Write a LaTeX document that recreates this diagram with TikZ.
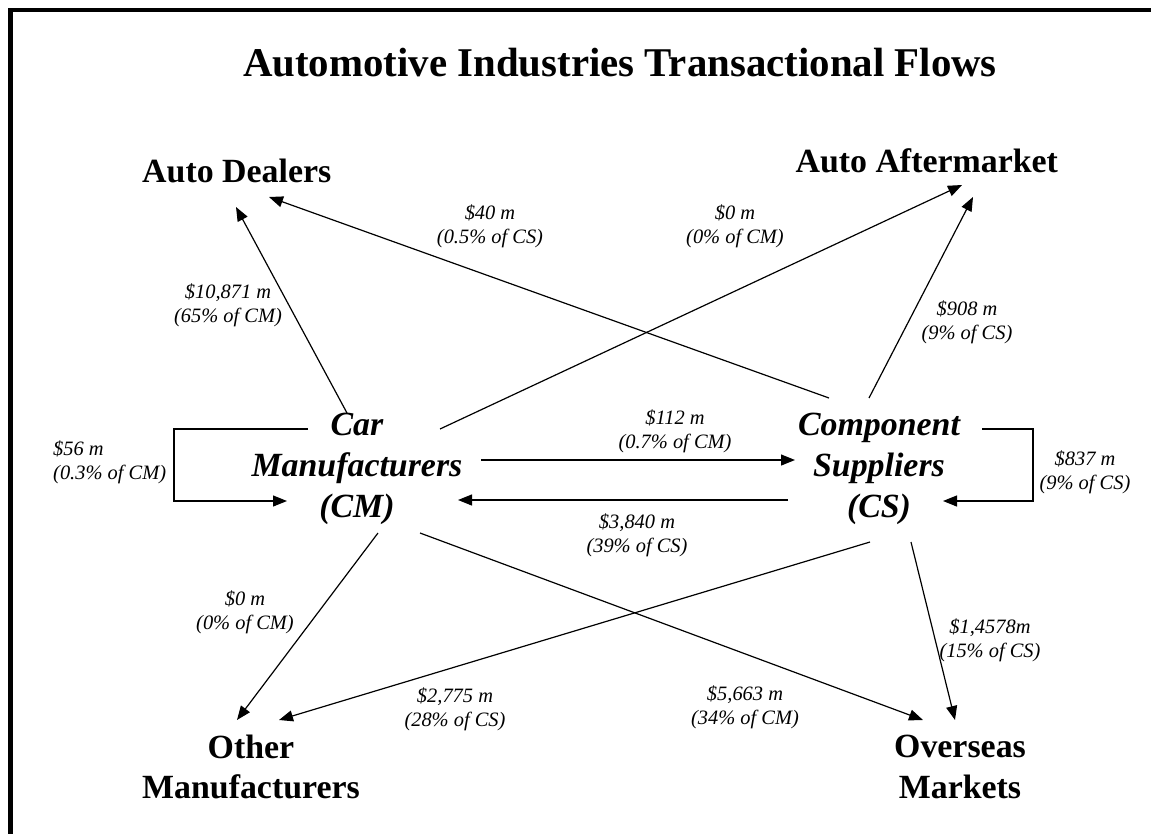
\documentclass[tikz,border=0pt]{standalone}
\usepackage{fontspec}
\setmainfont{Liberation Serif}
\usetikzlibrary{arrows.meta}
\tikzstyle{heading} = [font=\fontsize{41}{48}\selectfont\bfseries,inner sep=0pt]
\tikzstyle{market} = [font=\fontsize{34}{41}\selectfont\bfseries,align=center,inner sep=0pt]
\tikzstyle{producer} = [font=\fontsize{34}{41}\selectfont\bfseries\itshape,align=center,inner sep=0pt]
\tikzstyle{amount} = [font=\fontsize{20.5}{24.5}\selectfont\itshape,align=center,inner sep=0pt]
\tikzstyle{flow} = [-{Triangle[length=14bp,width=11bp]},line width=1.2bp,draw=black]

\begin{document}
\begin{tikzpicture}[x=1bp,y=-1bp]
\useasboundingbox (0,0) rectangle (1151,834);
\draw[line width=4.5bp] (10.5,840) -- (10.5,10) -- (1160,10);

\node[heading,anchor=base] (title) at (620,76) {
	Automotive Industries Transactional Flows
};

\node[market,anchor=base] (AD) at (241,182) {
	Auto Dealers
};
\node[market,anchor=base] (AA) at (931,172) {
	Auto Aftermarket
};
\node[market] (OM) at (251,767) {
	Other\\Manufacturers
};
\node[market] (OS) at (960,767) {
	Overseas\\Markets
};

\node[producer] (CM) at (357,469) {
	Car\\Manufacturers\\(CM)
};
\node[producer] (CS) at (879,469) {
	Component\\Suppliers\\(CS)
};

\draw[flow] ([shift={(-10,-56)}]CM.center) -- ([shift={(-5,25)}]AD.base);
\draw[flow] ([shift={(-50,-71)}]CS.center) -- ([shift={(28,15)}]AD.base);
\draw[flow] ([shift={(83,-40)}]CM.center) -- ([shift={(31,13)}]AA.base);
\draw[flow] ([shift={(-10,-71)}]CS.center) -- ([shift={(42,25)}]AA.base);

\draw[flow] ([shift={(124,-9)}]CM.center) -- ([shift={(-84,-9)}]CS.center);
\draw[flow] ([shift={(-91,31)}]CS.center) -- ([shift={(101,31)}]CM.center);
\draw[flow] ([shift={(-49,-40)}]CM.center) -| (174,501) -- ([shift={(-70,32)}]CM.center);
\draw[flow] ([shift={(103,-40)}]CS.center) -| (1033,501) -- ([shift={(64,32)}]CS.center);

\draw[flow] ([shift={(21,64)}]CM.center) -- ([shift={(-14,-47)}]OM.center);
\draw[flow] ([shift={(-9,73)}]CS.center) -- ([shift={(28,-47)}]OM.center);
\draw[flow] ([shift={(63,64)}]CM.center) -- ([shift={(-37,-47)}]OS.center);
\draw[flow] ([shift={(32,73)}]CS.center) -- ([shift={(-5,-47)}]OS.center);

\node[amount] (cm2ad) at (228,305) {
	\$10,871 m\\(65\% of CM)
};
\node[amount] (cs2ad) at (490,226) {
	\$40 m\\(0.5\% of CS)
};
\node[amount] (cm2aa) at (735,226) {
	\$0 m\\(0\% of CM)
};
\node[amount] (cs2aa) at (967,322) {
	\$908 m\\(9\% of CS)
};
\node[amount] (cm2cs) at (675,431) {
	\$112 m\\(0.7\% of CM)
};
\node[amount] (cs2cm) at (637,535) {
	\$3,840 m\\(39\% of CS)
};
\node[amount,align=left,anchor=west] (cm2cm) at (53,462) {
	\$56 m\\(0.3\% of CM)
};
\node[amount] (cs2cs) at (1085,472) {
	\$837 m\\(9\% of CS)
};
\node[amount] (cm2om) at (245,612) {
	\$0 m\\(0\% of CM)
};
\node[amount] (cs2om) at (455,709) {
	\$2,775 m\\(28\% of CS)
};
\node[amount] (cm2os) at (745,707) {
	\$5,663 m\\(34\% of CM)
};
\node[amount] (cs2os) at (990,640) {
	\$1,4578m\\(15\% of CS)
};
\end{tikzpicture}
\end{document}
